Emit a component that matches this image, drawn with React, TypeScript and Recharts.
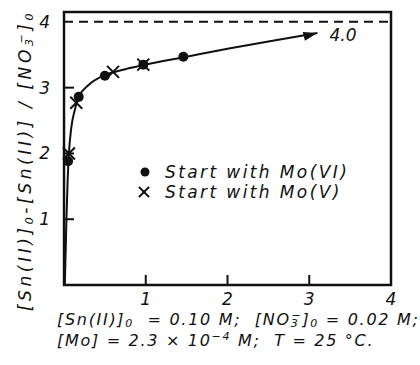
import React from 'react'
import {
  ComposedChart,
  Line,
  Scatter,
  XAxis,
  YAxis,
  ReferenceLine,
  ReferenceArea,
} from 'recharts'

// curve (x = time axis, y = ratio)
const CURVE_X = [0.01, 0.03, 0.045, 0.06, 0.09, 0.13, 0.18, 0.3, 0.5, 0.75, 1.0, 1.5, 2.0, 2.5, 3.1]
const CURVE_Y = [0, 1.0, 1.6, 2.0, 2.4, 2.65, 2.86, 3.04, 3.19, 3.28, 3.35, 3.47, 3.59, 3.7, 3.83]

// Start with Mo(VI) — filled dots
const MO6_X = [0.05, 0.18, 0.5, 0.97, 1.46]
const MO6_Y = [1.88, 2.86, 3.18, 3.35, 3.47]

// Start with Mo(V) — crosses
const MO5_X = [0.06, 0.15, 0.6, 0.97]
const MO5_Y = [2.0, 2.77, 3.24, 3.35]

const X_TICKS = [1, 2, 3, 4]
const Y_TICKS = [1, 2, 3, 4]
const LIMIT = 4
const LIMIT_LABEL = '4.0'
const SERIES = ['Start with Mo(VI)', 'Start with Mo(V)']

const FONT = '"DejaVu Sans", sans-serif'
const INK = '#111'

const curve = CURVE_X.map((x, i) => ({ x, y: CURVE_Y[i] }))
const mo6 = MO6_X.map((x, i) => ({ x, y: MO6_Y[i] }))
const mo5 = MO5_X.map((x, i) => ({ x, y: MO5_Y[i] }))

// text pieces: [text, kind]; 'over' is a superscript stacked over the previous subscript
type Seg = [string, '' | 'sub' | 'sup' | 'over']

const Y_LABEL: Seg[] = [
  ['[Sn(II)]', ''], ['0', 'sub'], ['-[Sn(II)] / [NO', ''], ['3', 'sub'], ['−', 'over'], [']', ''], ['0', 'sub'],
]
const NOTE_1: Seg[] = [
  ['[Sn(II)]', ''], ['0', 'sub'], ['  = 0.10 M;  [NO', ''], ['3', 'sub'], ['−', 'over'], [']', ''], ['0', 'sub'], [' = 0.02 M;', ''],
]
const NOTE_2: Seg[] = [
  ['[Mo] = 2.3 × 10', ''], ['−4', 'sup'], [' M;  T = 25 °C.', ''],
]

function segs(list: Seg[]) {
  return list.map(([t, k], i) => (
    <tspan
      key={i}
      dx={k === 'over' ? -8 : undefined}
      baselineShift={k === 'sub' ? -2 : k === 'sup' || k === 'over' ? 6 : undefined}
      fontSize={k ? 11 : undefined}
    >
      {t}
    </tspan>
  ))
}

// ─── ticks ───────────────────────────────────────────────

function YTick({ x, y, payload }: any) {
  return (
    <g>
      {payload.value < LIMIT && (
        <line x1={x + 14} x2={x + 24} y1={y} y2={y} stroke={INK} strokeWidth={2} />
      )}
      <text x={x} y={y} dy={6} textAnchor="end" fontSize={17} fontStyle="italic" fontFamily={FONT} fill={INK}>
        {payload.value}
      </text>
    </g>
  )
}

function XTick({ x, y, payload }: any) {
  return (
    <g>
      {payload.value < 4 && (
        <line x1={x} x2={x} y1={y - 12} y2={y - 22} stroke={INK} strokeWidth={2} />
      )}
      <text x={x} y={y} dy={8} textAnchor="middle" fontSize={17} fontStyle="italic" fontFamily={FONT} fill={INK}>
        {payload.value}
      </text>
    </g>
  )
}

function Cross({ cx, cy, size = 6 }: any) {
  return (
    <g stroke={INK} strokeWidth={2}>
      <line x1={cx - size} y1={cy - size} x2={cx + size} y2={cy + size} />
      <line x1={cx - size} y1={cy + size} x2={cx + size} y2={cy - size} />
    </g>
  )
}

// arrow head + "4.0" on the last curve point
function CurveEnd(props: any) {
  const { cx, cy, index } = props
  if (index !== curve.length - 1) return <g key={`d${index}`} />
  return (
    <g key="end">
      <polygon points="0,0 -14,-4.5 -14,4.5" fill={INK} transform={`translate(${cx},${cy}) rotate(-14)`} />
      <text x={cx + 12} y={cy + 8} fontSize={17} fontStyle="italic" fontFamily={FONT} fill={INK}>
        {LIMIT_LABEL}
      </text>
    </g>
  )
}

export default function App() {
  return (
    <div style={{ position: 'relative', width: 420, height: 365, background: '#fff' }}>
      <style>{'body{margin:0}'}</style>
      <ComposedChart width={420} height={365} margin={{ top: 12, right: 29, bottom: 0, left: 0 }}>
        <XAxis
          type="number"
          dataKey="x"
          domain={[0, 4]}
          ticks={X_TICKS}
          axisLine={false}
          tickLine={false}
          tickSize={0}
          tickMargin={12}
          height={80}
          tick={XTick}
          label={{
            content: ({ viewBox }: any) => (
              <g fontSize={16} fontStyle="italic" fontFamily={FONT} fill={INK} letterSpacing={1.7}>
                <text x={viewBox.x - 7} y={viewBox.y + 40} xmlSpace="preserve">{segs(NOTE_1)}</text>
                <text x={viewBox.x - 7} y={viewBox.y + 61} xmlSpace="preserve">{segs(NOTE_2)}</text>
              </g>
            ),
          }}
        />
        <YAxis
          type="number"
          domain={[0, 4.15]}
          ticks={Y_TICKS}
          axisLine={false}
          tickLine={false}
          tickSize={0}
          tickMargin={14}
          width={64}
          tick={YTick}
          label={{
            content: ({ viewBox }: any) => (
              <text
                transform={`translate(${viewBox.x + 31},${viewBox.y + viewBox.height / 2 + 12}) rotate(-90)`}
                textAnchor="middle"
                fontSize={17}
                fontStyle="italic"
                fontFamily={FONT}
                letterSpacing={3.6}
                fill={INK}
              >
                {segs(Y_LABEL)}
              </text>
            ),
          }}
        />

        <ReferenceArea x1={0} x2={4} y1={0} y2={4.15} fill="none" stroke={INK} strokeWidth={2.5} ifOverflow="visible" />
        <ReferenceLine y={LIMIT} stroke={INK} strokeWidth={2} strokeDasharray="9 6" />

        <Line
          data={curve}
          dataKey="y"
          type="monotone"
          stroke={INK}
          strokeWidth={2}
          dot={CurveEnd}
          activeDot={false}
          isAnimationActive={false}
        />
        <Scatter
          data={mo6}
          dataKey="y"
          fill={INK}
          shape={(p: any) => <circle cx={p.cx} cy={p.cy} r={5} fill={INK} />}
          isAnimationActive={false}
        />
        <Scatter
          data={mo5}
          dataKey="y"
          shape={(p: any) => <Cross cx={p.cx} cy={p.cy} />}
          isAnimationActive={false}
        />
      </ComposedChart>

      {/* legend inside the plot */}
      <div style={{ position: 'absolute', left: 136, top: 162, fontFamily: FONT, fontStyle: 'italic', fontSize: 17, color: INK, lineHeight: '20px', letterSpacing: 2.4 }}>
        {SERIES.map((s, i) => (
          <div key={s} style={{ display: 'flex', alignItems: 'center', height: 20 }}>
            <svg width={20} height={20} style={{ marginRight: 9 }}>
              {i === 0 ? <circle cx={9} cy={10} r={4.5} fill={INK} /> : <Cross cx={8} cy={10} size={5} />}
            </svg>
            <span>{s}</span>
          </div>
        ))}
      </div>
    </div>
  )
}
